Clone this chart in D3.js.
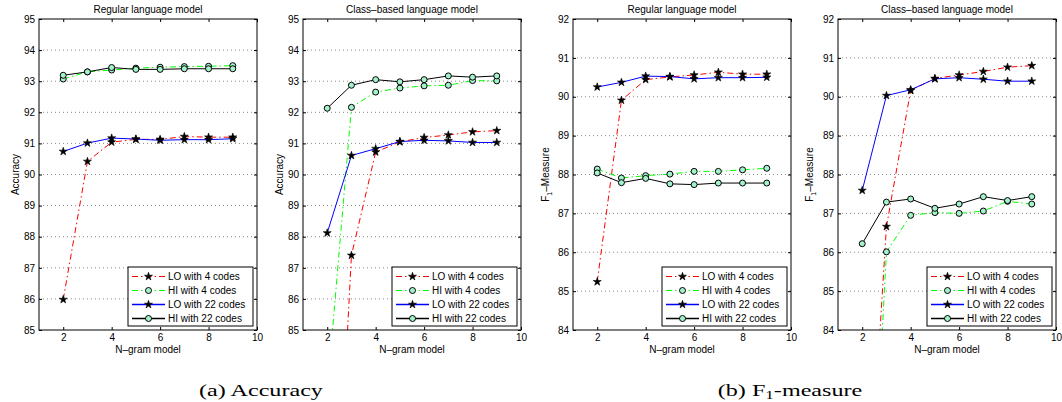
<!DOCTYPE html>
<html>
<head>
<meta charset="utf-8">
<script src="https://cdn.jsdelivr.net/npm/d3@7"></script>
<style>
  body { margin: 0; background: #fff; }
  svg text { font-family: "Liberation Sans", Arial, sans-serif; }
</style>
</head>
<body>
<svg id="fig"></svg>
<script>
// x values and ticks
var ngram = [2, 3, 4, 5, 6, 7, 8, 9];
var xTicks = [2, 4, 6, 8, 10];
var accTicks = [85, 86, 87, 88, 89, 90, 91, 92, 93, 94, 95];
var f1Ticks = [84, 85, 86, 87, 88, 89, 90, 91, 92];
var seriesNames = ["LO with 4 codes", "HI with 4 codes", "LO with 22 codes", "HI with 22 codes"];

// (a) accuracy, regular language model
var accRegLO4 = [85.98, 90.42, 91.04, 91.13, 91.13, 91.22, 91.2, 91.2];
var accRegHI4 = [93.07, 93.3, 93.36, 93.42, 93.45, 93.47, 93.48, 93.5];
var accRegLO22 = [90.74, 91.01, 91.17, 91.14, 91.1, 91.12, 91.12, 91.15];
var accRegHI22 = [93.19, 93.3, 93.44, 93.38, 93.38, 93.4, 93.4, 93.4];

// (a) accuracy, class-based language model
var accClsLO4 = [72.4, 87.4, 90.72, 91.05, 91.19, 91.27, 91.37, 91.41];
var accClsHI4 = [83.0, 92.16, 92.65, 92.78, 92.85, 92.87, 93.02, 93.01];
var accClsLO22 = [88.12, 90.61, 90.83, 91.06, 91.1, 91.08, 91.03, 91.03];
var accClsHI22 = [92.13, 92.87, 93.05, 92.98, 93.05, 93.17, 93.13, 93.17];

// (b) F1, regular language model
var f1RegLO4 = [85.24, 89.91, 90.44, 90.51, 90.56, 90.63, 90.58, 90.58];
var f1RegHI4 = [88.14, 87.91, 87.97, 88.01, 88.08, 88.08, 88.12, 88.16];
var f1RegLO22 = [90.25, 90.37, 90.53, 90.52, 90.46, 90.49, 90.49, 90.5];
var f1RegHI22 = [88.04, 87.79, 87.9, 87.76, 87.74, 87.78, 87.78, 87.78];

// (b) F1, class-based language model
var f1ClsLO4 = [76.6, 86.66, 90.16, 90.47, 90.56, 90.65, 90.76, 90.8];
var f1ClsHI4 = [74.2, 86.01, 86.95, 87.02, 87.0, 87.06, 87.31, 87.24];
var f1ClsLO22 = [87.59, 90.03, 90.18, 90.46, 90.49, 90.45, 90.4, 90.4];
var f1ClsHI22 = [86.22, 87.29, 87.37, 87.13, 87.24, 87.43, 87.33, 87.43];

var screen = { width: 1062, height: 402 };
var graph = { top: 19, width: 218, height: 311 };

var styles = [
  { color: "#ff0000", dash: "6,3,1.5,3", marker: "star" },
  { color: "#00ff00", dash: "6,3,1.5,3", marker: "circle" },
  { color: "#0000ff", dash: null, marker: "star" },
  { color: "#000000", dash: null, marker: "circle" }
];
var markerFill = "#a4f2cc";

var svg = d3.select("#fig").attr("width", screen.width).attr("height", screen.height);

var drawMarker = function (sel, kind, x, y) {
  if (kind == "star") {
    sel.append("path")
      .attr("d", d3.symbol().type(d3.symbolStar).size(20)())
      .attr("transform", "translate(" + x + "," + y + ")")
      .attr("fill", "#000")
      .attr("stroke", "#000")
      .attr("stroke-width", 0.6);
  } else {
    sel.append("circle")
      .attr("cx", x).attr("cy", y).attr("r", 3)
      .attr("fill", markerFill)
      .attr("stroke", "#000")
      .attr("stroke-width", 1);
  }
};

var drawPanel = function (id, left, labelGap, title, isF1, yDomain, yTicks, data) {
  var xScale = d3.scaleLinear().domain([1, 10]).range([0, graph.width]);
  var yScale = d3.scaleLinear().domain(yDomain).range([graph.height, 0]);

  var g = svg.append("g")
    .attr("transform", "translate(" + left + "," + graph.top + ")");

  // dotted grid
  g.append("g").selectAll("line")
    .data(yTicks.slice(1, -1))
    .enter().append("line")
    .attr("x1", 0).attr("x2", graph.width)
    .attr("y1", function (d) { return yScale(d); })
    .attr("y2", function (d) { return yScale(d); })
    .attr("stroke", "#6a6a6a")
    .attr("stroke-width", 0.8)
    .attr("stroke-dasharray", "1,3");

  // clip
  svg.append("clipPath").attr("id", "clip" + id)
    .append("rect").attr("width", graph.width).attr("height", graph.height);

  var plot = g.append("g").attr("clip-path", "url(#clip" + id + ")");
  var line = d3.line()
    .x(function (d, i) { return xScale(ngram[i]); })
    .y(function (d) { return yScale(d); });

  data.forEach(function (vals, k) {
    var st = styles[k];
    plot.append("path")
      .attr("d", line(vals))
      .attr("fill", "none")
      .attr("stroke", st.color)
      .attr("stroke-width", 1)
      .attr("stroke-dasharray", st.dash);
    vals.forEach(function (v, i) {
      if (v >= yDomain[0] && v <= yDomain[1])
        drawMarker(plot, st.marker, xScale(ngram[i]), yScale(v));
    });
  });

  // axes, ticks pointing inward on all four sides
  var styleAxis = function (a) {
    a.select(".domain").remove();
    a.selectAll("text")
      .attr("font-size", 10)
      .attr("font-family", "Liberation Sans, Arial, sans-serif")
      .attr("fill", "#000");
    a.selectAll("line").attr("stroke", "#000");
  };
  g.append("g").attr("transform", "translate(0," + graph.height + ")")
    .call(d3.axisBottom(xScale).tickValues(xTicks).tickSizeInner(-3).tickSizeOuter(0).tickPadding(4))
    .call(styleAxis);
  g.append("g")
    .call(d3.axisTop(xScale).tickValues(xTicks).tickSizeInner(-3).tickSizeOuter(0).tickFormat(""))
    .call(styleAxis);
  g.append("g")
    .call(d3.axisLeft(yScale).tickValues(yTicks).tickSizeInner(-3).tickSizeOuter(0).tickPadding(4))
    .call(styleAxis);
  g.append("g").attr("transform", "translate(" + graph.width + ",0)")
    .call(d3.axisRight(yScale).tickValues(yTicks).tickSizeInner(-3).tickSizeOuter(0).tickFormat(""))
    .call(styleAxis);

  g.append("rect")
    .attr("width", graph.width).attr("height", graph.height)
    .attr("fill", "none").attr("stroke", "#000").attr("stroke-width", 1);

  // labels
  g.append("text")
    .text(title)
    .attr("text-anchor", "middle")
    .attr("x", graph.width / 2)
    .attr("y", 13 - graph.top)
    .attr("font-size", 10);

  g.append("text")
    .text("N\u2013gram model")
    .attr("text-anchor", "middle")
    .attr("x", graph.width / 2)
    .attr("y", 353 - graph.top)
    .attr("font-size", 10);

  var yl = g.append("text")
    .attr("text-anchor", "middle")
    .attr("font-size", 10)
    .attr("transform", "translate(" + (-labelGap) + "," + graph.height / 2 + ") rotate(-90)");
  if (isF1) {
    yl.append("tspan").text("F");
    yl.append("tspan").text("1").attr("font-size", 7).attr("dy", 3);
    yl.append("tspan").text("\u2013Measure").attr("dy", -3);
  } else {
    yl.text("Accuracy");
  }

  // legend
  var lw = 125, lh = 59;
  var leg = g.append("g")
    .attr("transform", "translate(" + (graph.width - 4 - lw) + "," + (graph.height - 4 - lh) + ")");
  leg.append("rect")
    .attr("width", lw).attr("height", lh)
    .attr("fill", "#fff").attr("stroke", "#000").attr("stroke-width", 1);
  seriesNames.forEach(function (name, k) {
    var st = styles[k];
    var yy = 9.5 + k * 14;
    leg.append("line")
      .attr("x1", 4).attr("x2", 37).attr("y1", yy).attr("y2", yy)
      .attr("stroke", st.color)
      .attr("stroke-width", st.dash ? 1 : 1.6)
      .attr("stroke-dasharray", st.dash);
    drawMarker(leg, st.marker, 20.5, yy);
    leg.append("text")
      .text(name)
      .attr("x", 40).attr("y", yy)
      .attr("dy", "0.35em")
      .attr("font-size", 10);
  });
};

drawPanel(0, 39, 20, "Regular language model", false, [85, 95], accTicks,
  [accRegLO4, accRegHI4, accRegLO22, accRegHI22]);
drawPanel(1, 303, 20, "Class\u2013based language model", false, [85, 95], accTicks,
  [accClsLO4, accClsHI4, accClsLO22, accClsHI22]);
drawPanel(2, 573, 24, "Regular language model", true, [84, 92], f1Ticks,
  [f1RegLO4, f1RegHI4, f1RegLO22, f1RegHI22]);
drawPanel(3, 838, 25, "Class\u2013based language model", true, [84, 92], f1Ticks,
  [f1ClsLO4, f1ClsHI4, f1ClsLO22, f1ClsHI22]);

// sub-figure captions (serif, stretched like the source)
var capA = svg.append("text")
  .attr("transform", "translate(261,396) scale(1.42,1)")
  .attr("text-anchor", "middle")
  .style("font-family", "'Liberation Serif', 'Times New Roman', serif")
  .attr("font-size", 17)
  .text("(a) Accuracy");

var capB = svg.append("text")
  .attr("transform", "translate(790,396) scale(1.42,1)")
  .attr("text-anchor", "middle")
  .style("font-family", "'Liberation Serif', 'Times New Roman', serif")
  .attr("font-size", 17);
capB.append("tspan").text("(b) F");
capB.append("tspan").text("1").attr("font-size", 12).attr("dy", 3);
capB.append("tspan").text("-measure").attr("dy", -3);
</script>
</body>
</html>
